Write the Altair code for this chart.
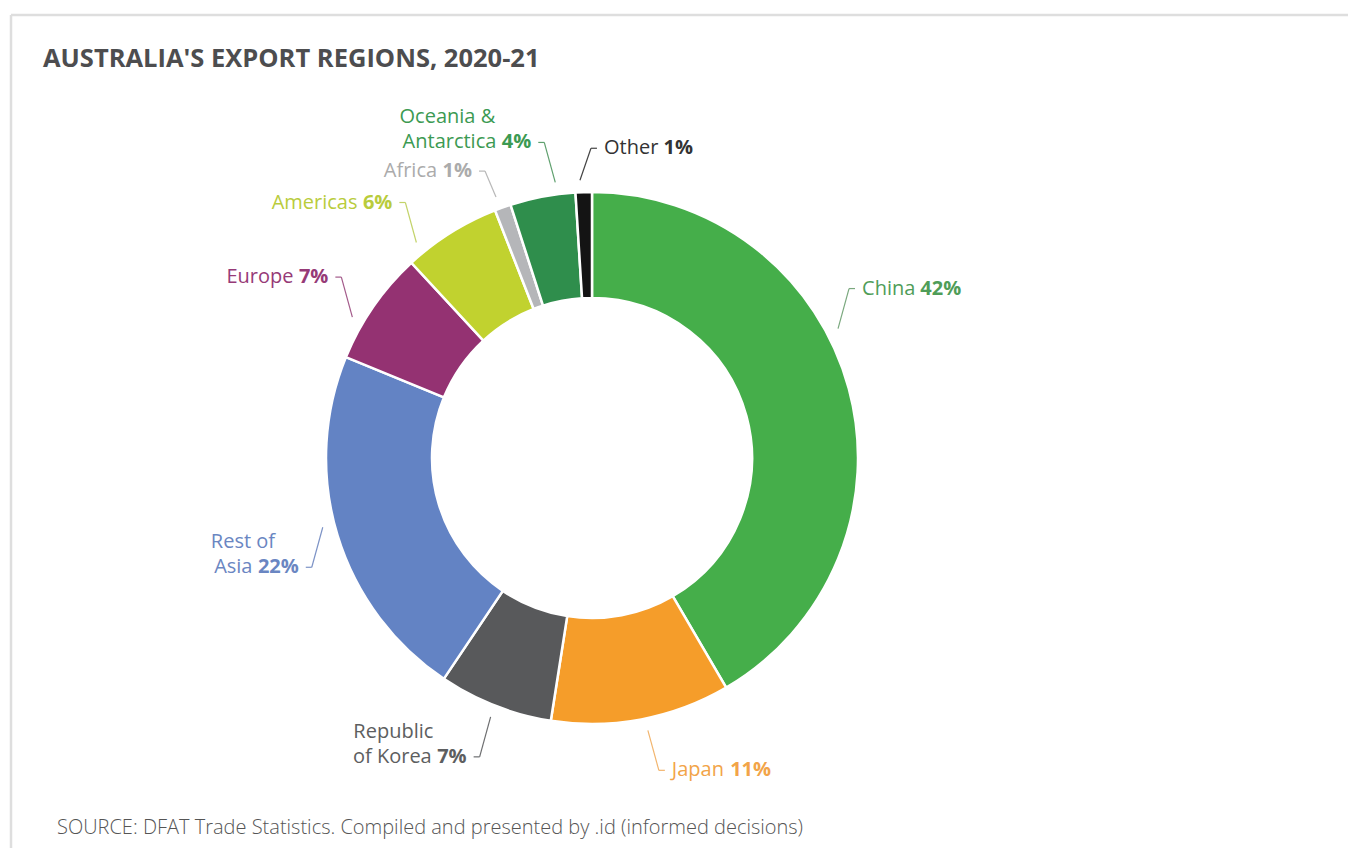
import altair as alt
import pandas as pd

# ---------------- data ----------------
REGIONS = ["China", "Japan", "Republic of Korea", "Rest of Asia", "Europe",
           "Americas", "Africa", "Oceania & Antarctica", "Other"]
SHARES = [42, 11, 7, 22, 7, 6, 1, 4, 1]
PCT_LABELS = ["42%", "11%", "7%", "22%", "7%", "6%", "1%", "4%", "1%"]
NAME_TOP = ["", "", "Republic", "Rest of", "", "", "", "Oceania &", ""]
NAME_LAST = ["China", "Japan", "of Korea", "Asia", "Europe", "Americas",
             "Africa", "Antarctica", "Other"]

TITLE = "AUSTRALIA'S EXPORT REGIONS, 2020-21"
SOURCE = "SOURCE: DFAT Trade Statistics. Compiled and presented by .id (informed decisions)"

# ---------------- styles ----------------
SLICE_COLORS = ["#45ae4a", "#f59d2a", "#58595b", "#6383c4", "#943272",
                "#c1d22f", "#b5b6b9", "#2f8e4c", "#141414"]
LABEL_COLORS = ["#4f9d58", "#f2a448", "#5d5e60", "#6a86c2", "#963a77",
                "#b9cc3c", "#ababab", "#3c9a52", "#333333"]
LEADER_COLORS = ["#7aa87e", "#f2b56e", "#6d6e70", "#7d93c6", "#a35a8a",
                 "#c3d36a", "#b8b8b8", "#5fa06e", "#444444"]

# label layout tweaks (degrees of angular nudge, leader length in px)
LABEL_SHIFT = {"China": -12.6, "Japan": -0.9, "Rest of Asia": 2.5, "Europe": -4.3,
               "Americas": -7.1, "Africa": -0.6, "Oceania & Antarctica": 3.1,
               "Other": -0.7}
LEADER_LEN = {"Africa": 26, "Other": 32}

W, H = 1340, 840
CX, CY = 584, 450
R_IN, R_OUT = 160, 266
R_LEAD = 278
SLANT, TICK, GAP = 11, 6, 7
LH = 25
FONT = "Open Sans"
FS = 20
SPACE = 5.5

df = pd.DataFrame({
    "idx": list(range(len(REGIONS))),
    "region": REGIONS,
    "share": SHARES,
    "pct": PCT_LABELS,
    "name_top": NAME_TOP,
    "name_last": NAME_LAST,
    "shift": [LABEL_SHIFT.get(r, 0.0) for r in REGIONS],
    "llen": [LEADER_LEN.get(r, 40) for r in REGIONS],
})

base = alt.Chart(df)

def cscale(rng):
    return alt.Color("region:N", scale=alt.Scale(domain=REGIONS, range=rng), legend=None)

def count(field, chars):
    return f"length(replace(datum.{field}, regexp('[^{chars}]', 'g'), ''))"

arcs = base.mark_arc(innerRadius=R_IN, outerRadius=R_OUT, stroke="white",
                     strokeWidth=2.5).encode(
    theta=alt.Theta("share:Q", stack=True),
    order=alt.Order("idx:Q", sort="ascending"),
    color=cscale(SLICE_COLORS),
    x=alt.value(CX),
    y=alt.value(CY),
)

geo = base.transform_joinaggregate(
    total="sum(share)"
).transform_window(
    cum="sum(share)", sort=[alt.SortField("idx")], frame=[None, 0]
).transform_calculate(
    mid="2*PI*(datum.cum - datum.share/2)/datum.total + datum.shift*PI/180"
).transform_calculate(
    side="sin(datum.mid) > -0.08 ? 1 : -1",
    up="cos(datum.mid) > 0 ? 1 : -1",
    sx=f"{CX} + {R_LEAD}*sin(datum.mid)",
    sy=f"{CY} - {R_LEAD}*cos(datum.mid)",
).transform_calculate(
    ex=f"datum.sx + datum.side*{SLANT}",
    ey="datum.sy - datum.up*datum.llen",
).transform_calculate(
    tx=f"datum.ex + datum.side*{TICK}",
    wlast=(f"length(datum.name_last)*{0.56*FS}"
           f" + {count('name_last', 'A-Z')}*{0.15*FS}"
           f" + {count('name_last', 'OQGDMmwW')}*{0.15*FS}"
           f" - {count('name_last', 'iljJ ')}*{0.31*FS}"
           f" - {count('name_last', 'trf')}*{0.2*FS}"),
    wpct=f"(length(datum.pct) - 1)*{0.57*FS} + {0.9*FS}",
).transform_calculate(
    ax=f"datum.tx + datum.side*{GAP}",
).transform_calculate(
    name_x=f"datum.side > 0 ? datum.ax : datum.ax - datum.wpct - {SPACE}",
    pct_x=f"datum.side > 0 ? datum.ax + datum.wlast + {SPACE} : datum.ax",
    top_x=f"datum.side > 0 ? datum.ax : datum.ax - datum.wpct - {SPACE} - datum.wlast",
    top_y=f"datum.ey - {LH}",
)

leader = geo.mark_rule(strokeWidth=1.2).encode(
    x=alt.X("sx:Q", scale=None), y=alt.Y("sy:Q", scale=None),
    x2="ex:Q", y2="ey:Q", color=cscale(LEADER_COLORS),
)
tick = geo.mark_rule(strokeWidth=1.2).encode(
    x=alt.X("ex:Q", scale=None), x2="tx:Q", y=alt.Y("ey:Q", scale=None),
    color=cscale(LEADER_COLORS),
)

def label_layer(filt, field, xfield, yfield, align, weight):
    return geo.transform_filter(filt).mark_text(
        align=align, baseline="middle", font=FONT, fontSize=FS, fontWeight=weight
    ).encode(
        x=alt.X(f"{xfield}:Q", scale=None),
        y=alt.Y(f"{yfield}:Q", scale=None),
        text=f"{field}:N",
        color=cscale(LABEL_COLORS),
    )

name_r = label_layer("datum.side > 0", "name_last", "name_x", "ey", "left", "normal")
name_l = label_layer("datum.side < 0", "name_last", "name_x", "ey", "right", "normal")
pct_r = label_layer("datum.side > 0", "pct", "pct_x", "ey", "left", "bold")
pct_l = label_layer("datum.side < 0", "pct", "pct_x", "ey", "right", "bold")
top_t = label_layer("datum.name_top != ''", "name_top", "top_x", "top_y", "left", "normal")

frame_df = pd.DataFrame({"a": [0]})
border_top = alt.Chart(frame_df).mark_rule(color="#dedede", strokeWidth=2.5).encode(
    x=alt.value(3), x2=alt.value(W + 20), y=alt.value(7))
border_left = alt.Chart(frame_df).mark_rule(color="#dedede", strokeWidth=2.5).encode(
    x=alt.value(3), y=alt.value(7), y2=alt.value(H + 20))

title = alt.Chart(pd.DataFrame({"t": [TITLE]})).mark_text(
    align="left", baseline="middle", font=FONT, fontSize=25.5, fontWeight="bold",
    color="#4d4d4f"
).encode(x=alt.value(35), y=alt.value(51), text="t:N")

source = alt.Chart(pd.DataFrame({"t": [SOURCE]})).mark_text(
    align="left", baseline="middle", font=FONT, fontSize=20, fontWeight=300,
    color="#555555"
).encode(x=alt.value(49), y=alt.value(820), text="t:N")

chart = alt.layer(
    border_top, border_left, title, source,
    arcs, leader, tick, name_r, name_l, pct_r, pct_l, top_t
).resolve_scale(color="independent").properties(
    width=W, height=H, autosize="none",
    padding={"left": 0, "top": 0, "right": 0, "bottom": 0},
).configure_view(stroke=None)

chart.save("out.html", embed_options={"renderer": "svg", "actions": False})
